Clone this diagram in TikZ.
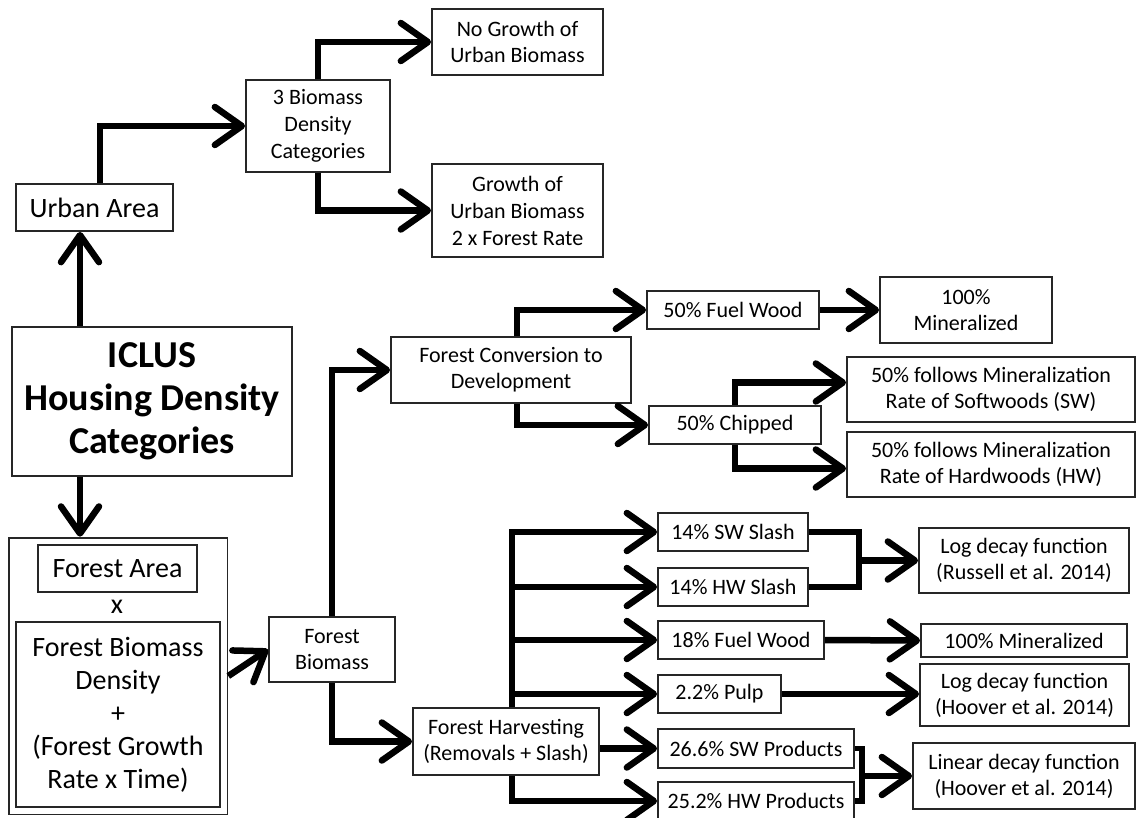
\documentclass[tikz,border=0pt]{standalone}
\usepackage{fontspec}
\setmainfont{Carlito}
\usetikzlibrary{arrows.meta,positioning,calc,fit}
\tikzset{
  box/.style    = {rectangle, draw=black!85, line width=1.8pt, align=center,
                   inner sep=0pt, font=\fontsize{22}{26}\selectfont},
  bigbox/.style = {box, font=\fontsize{28}{33}\selectfont},
  sz/.style 2 args = {minimum width=#1pt, minimum height=#2pt},
  fl/.style     = {-{Straight Barb[length=27pt, width=38pt, line width=6.5pt, round]},
                   line width=6.5pt},
  ln/.style     = {line width=5.5pt},
}

\begin{document}
\begin{tikzpicture}[x=1pt, y=-1pt]
    \useasboundingbox (0,0) rectangle (1137,817);
    % left column
    \node[bigbox, sz={157}{47}] (urban) at (94.5,207.5) {Urban Area};
    \node[box, sz={280}{149}, font=\fontsize{38}{43}\selectfont\bfseries] (iclus) at (152,401.5)
      {ICLUS\\Housing Density\\Categories};
    \node[bigbox, sz={159}{47}] (farea) at (117.5,568.5) {Forest Area};
    \node[font=\fontsize{28}{33}\selectfont, inner sep=0pt] (times) at (117,607) {x};
    \node[bigbox, sz={204}{185}] (fdens) at (118,714.5)
      {Forest Biomass\\Density\\+\\(Forest Growth\\Rate x Time)};
    \node[draw=black!85, line width=1.8pt, inner sep=6.5pt, fit=(farea)(fdens)] (forest) {};
    % urban branch
    \node[box, sz={144}{92}, font=\fontsize{22}{27}\selectfont] (bio3) at (318,126)
      {3 Biomass\\Density\\Categories};
    \node[box, sz={171}{66}] (nogrow) at (517.5,42) {No Growth of\\Urban Biomass};
    \node[box, sz={171}{93}, font=\fontsize{22}{27}\selectfont] (grow) at (517.5,210.5)
      {Growth of\\Urban Biomass\\2 x Forest Rate};
    % forest branch
    \node[box, sz={126}{65}] (fbio) at (332,649.5) {Forest\\Biomass};
    \node[box, sz={240}{66}] (conv) at (511,370) {Forest Conversion to\\Development};
    \node[box, sz={172}{38}] (fuel50) at (733,310) {50\% Fuel Wood};
    \node[box, sz={172}{66}] (minA) at (966,310) {100\%\\Mineralized};
    \node[box, sz={172}{38}] (chip) at (735,425) {50\% Chipped};
    \node[box, sz={288}{65}] (swrate) at (991,389.5) {50\% follows Mineralization\\Rate of Softwoods (SW)};
    \node[box, sz={288}{65}] (hwrate) at (991,464.5) {50\% follows Mineralization\\Rate of Hardwoods (HW)};
    \node[box, sz={186}{67}] (harv) at (506,741.5) {Forest Harvesting\\(Removals + Slash)};
    \node[box, sz={150}{38}] (swsl) at (733,532) {14\% SW Slash};
    \node[box, sz={150}{38}] (hwsl) at (733,587) {14\% HW Slash};
    \node[box, sz={166}{38}] (fuel18) at (741,640) {18\% Fuel Wood};
    \node[box, sz={123}{38}] (pulp) at (719.5,694) {2.2\% Pulp};
    \node[box, sz={196}{39}] (swprod) at (756,748.5) {26.6\% SW Products};
    \node[box, sz={196}{38}] (hwprod) at (756,801) {25.2\% HW Products};
    \node[box, sz={210}{65}] (russ) at (1024,560.5) {Log decay function\\(Russell et al. 2014)};
    \node[box, sz={206}{33}] (minB) at (1024,640.5) {100\% Mineralized};
    \node[box, sz={209}{62}] (hoov) at (1024.5,695) {Log decay function\\(Hoover et al. 2014)};
    \node[box, sz={222}{66}] (linear) at (1024,776) {Linear decay function\\(Hoover et al. 2014)};
    % helper points
    \coordinate (lx) at (80,0);
    \coordinate (ux) at (100,0);
    \coordinate (tk) at (512,0);
    \coordinate (jA) at (859,560.5);
    \coordinate (jB) at (862,776);
    % connectors
    \draw[fl] (iclus.north -| lx) -- (urban.south -| lx);
    \draw[fl] (iclus.south -| lx) -- (forest.north -| lx);
    \draw[fl] (urban.north -| ux) |- (bio3.west);
    \draw[fl] (bio3.north) |- (nogrow.west);
    \draw[fl] (bio3.south) |- (grow.west);
    \draw[fl] (forest.east) -- (fbio.west);
    \draw[fl] (fbio.north) |- (conv.west);
    \draw[fl] (fbio.south) |- (harv.west);
    \draw[fl] ([xshift=6pt]conv.north) |- (fuel50.west);
    \draw[fl] ([xshift=6pt]conv.south) |- (chip.west);
    \draw[fl] (fuel50.east) -- (minA.west);
    \draw[fl] (chip.north) |- ($(swrate.west)+(0,-7)$);
    \draw[fl] (chip.south) |- ($(hwrate.west)+(0,4)$);
    \draw[fl] (harv.north -| tk) |- (swsl.west);
    \foreach \b in {hwsl,fuel18,pulp}
      \draw[fl] (\b.west -| tk) -- (\b.west);
    \draw[fl] (harv.south -| tk) |- (hwprod.west);
    \draw[fl] (swprod.west -| harv.east) -- (swprod.west);
    \draw[ln] (swsl.east) -| (jA) |- (hwsl.east);
    \draw[fl] (jA) -- (russ.west);
    \draw[fl] (fuel18.east) -- (minB.west);
    \draw[fl] (pulp.east) -- (pulp.east -| hoov.west);
    \draw[ln] (swprod.east) -| (jB) |- (hwprod.east);
    \draw[fl] (jB) -- (linear.west);
\end{tikzpicture}
\end{document}
